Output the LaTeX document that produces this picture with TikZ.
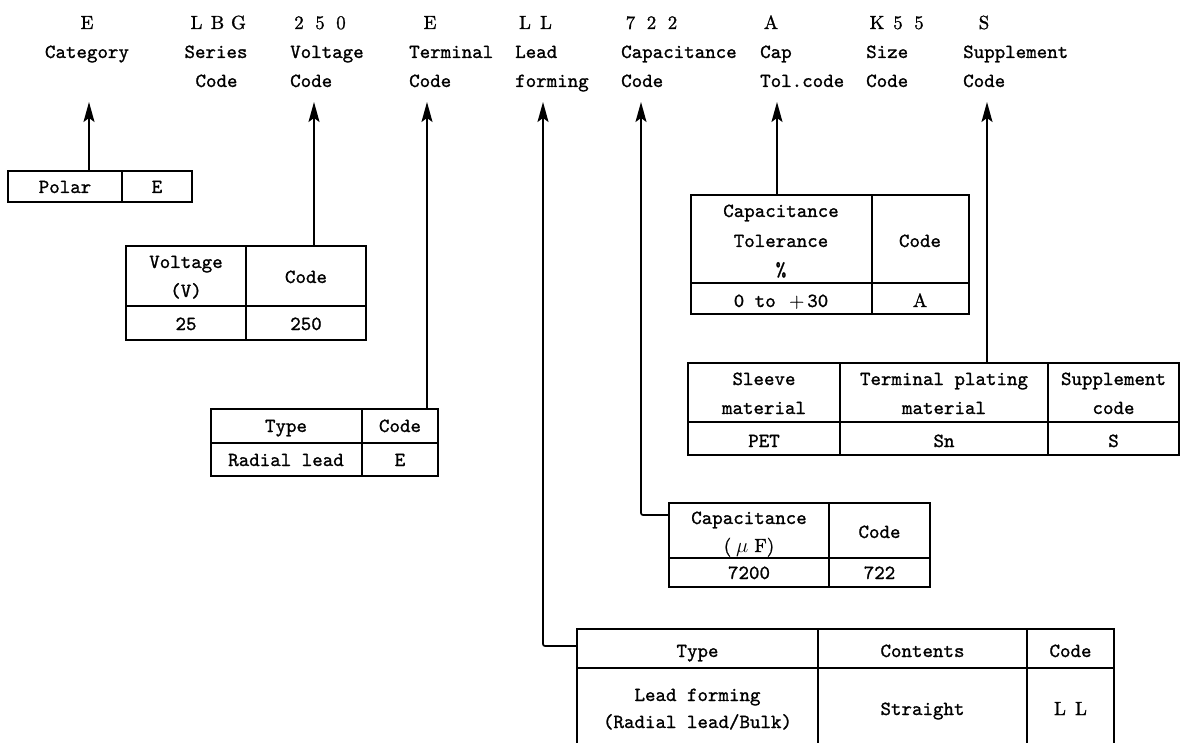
\documentclass[tikz,border=0pt]{standalone}
\usetikzlibrary{arrows.meta}
\font\mytt="[lmmono10-regular]:embolden=1.1" at 20pt
\font\myrm="[lmroman10-regular]:embolden=1.1" at 19pt
\newcommand\fwc[1]{\makebox[21pt]{#1}}
\begin{document}
\begin{tikzpicture}[x=1pt,y=-1pt,
  tbl/.style={draw, line width=1.5pt, inner sep=0pt, outer sep=0pt, anchor=north west},
  gridline/.style={line width=1.5pt},
  t/.style={font={\fontsize{20}{24}\selectfont\mytt}, inner sep=0pt, anchor=base},
  tw/.style={t, anchor=base west},
  big/.style={font={\fontsize{19}{23}\selectfont\myrm}, inner sep=0pt, anchor=base},
  arr/.style={line width=1.7pt, -{Stealth[length=20pt,width=11pt,inset=4pt]}}]
\useasboundingbox (0,0) rectangle (1180,743);

% ---------- top codes ----------
\node[big] (cE)   at (87,29)    {E};
\node[big] (cLBG) at (217.5,29) {\fwc{L}\fwc{B}\fwc{G}};
\node[big] (c250) at (320,29)   {\fwc{2}\fwc{5}\fwc{0}};
\node[big] (cE2)  at (430,29)   {E};
\node[big] (cLL)  at (535.5,29) {\fwc{L}\fwc{L}};
\node[big] (c722) at (651.5,29) {\fwc{7}\fwc{2}\fwc{2}};
\node[big] (cA)   at (771,29)   {A};
\node[big] (cK55) at (898,29)   {\fwc{K}\fwc{5}\fwc{5}};
\node[big] (cS)   at (984,29)   {S};

% ---------- labels ----------
\node[t]  (l1a) at (87,58)  {Category};
\node[t]  (l2a) at (216,58) {Series};
\node[t]  (l2b) at (216.5,87) {Code};
\node[tw] (l3a) at (290,58) {Voltage};
\node[tw] (l3b) at (290,87) {Code};
\node[tw] (l4a) at (409,58) {Terminal};
\node[tw] (l4b) at (409,87) {Code};
\node[tw] (l5a) at (515,58) {Lead};
\node[tw] (l5b) at (515,87) {forming};
\node[tw] (l6a) at (621,58) {Capacitance};
\node[tw] (l6b) at (621,87) {Code};
\node[tw] (l7a) at (760,58) {Cap};
\node[tw] (l7b) at (760,87) {Tol.code};
\node[tw] (l8a) at (866,58) {Size};
\node[tw] (l8b) at (866,87) {Code};
\node[tw] (l9a) at (963,58) {Supplement};
\node[tw] (l9b) at (963,87) {Code};

% ---------- arrow tips ----------
\coordinate (tCat)  at (89,102);
\coordinate (tVolt) at (314,102);
\coordinate (tTerm) at (427,102);
\coordinate (tLead) at (543,102);
\coordinate (tCap)  at (641,102);
\coordinate (tTol)  at (777,102);
\coordinate (tSupp) at (987,102);

% ---------- Polar table ----------
\node[tbl, minimum width=184pt, minimum height=31pt] (polar) at (8,171) {};
\draw[gridline] (122,171) -- (122,202);
\node[t] (p1) at (65,193) {Polar};
\node[t] (p2) at (157,193) {E};

% ---------- Voltage table ----------
\node[tbl, minimum width=240pt, minimum height=94pt] (volt) at (126,246) {};
\draw[gridline] (246,246) -- (246,340);
\draw[gridline] (126,306) -- (366,306);
\node[t] (v1) at (186,268) {Voltage};
\node[t] (v2) at (186,297) {(V)};
\node[t] (v3) at (306,283) {Code};
\node[t] (v4) at (186,330) {25};
\node[t] (v5) at (306,330) {250};

% ---------- Terminal type table ----------
\node[tbl, minimum width=227pt, minimum height=67pt] (type) at (211,409) {};
\draw[gridline] (362,409) -- (362,476);
\draw[gridline] (211,443) -- (438,443);
\node[t] (y1) at (286,432) {Type};
\node[t] (y2) at (400,432) {Code};
\node[t] (y3) at (286,466) {Radial lead};
\node[t] (y4) at (400,466) {E};

% ---------- Tolerance table ----------
\node[tbl, minimum width=278pt, minimum height=119pt] (tol) at (691,195) {};
\draw[gridline] (872,195) -- (872,314);
\draw[gridline] (691,283) -- (969,283);
\node[t] (o1) at (781,217) {Capacitance};
\node[t] (o2) at (781,247) {Tolerance};
\node[t] (o3) at (781,276) {\%};
\node[t] (o4) at (920,247) {Code};
\node[t] (o5) at (781,307) {0 to \fwc{\myrm +}30};
\node[big] (o6) at (920,307) {A};

% ---------- Supplement table ----------
\node[tbl, minimum width=491pt, minimum height=92pt] (sleeve) at (688,363) {};
\draw[gridline] (840,363) -- (840,455);
\draw[gridline] (1048,363) -- (1048,455);
\draw[gridline] (688,422) -- (1179,422);
\node[t] (s1) at (764,385) {Sleeve};
\node[t] (s2) at (764,414) {material};
\node[t] (s3) at (944,385) {Terminal plating};
\node[t] (s4) at (944,414) {material};
\node[t] (s5) at (1113.5,385) {Supplement};
\node[t] (s6) at (1113.5,414) {code};
\node[t] (s7) at (764,447) {PET};
\node[t] (s8) at (944,447) {Sn};
\node[t] (s9) at (1113.5,447) {S};

% ---------- Capacitance table ----------
\node[tbl, minimum width=261pt, minimum height=84pt] (cap) at (669,503) {};
\draw[gridline] (829,503) -- (829,587);
\draw[gridline] (669,558) -- (930,558);
\node[t] (a1) at (749,524) {Capacitance};
\node[t] (a2) at (749,552) {{\myrm(}\hspace{5pt}$\mu$\hspace{6pt}{\myrm F)}};
\node[t] (a3) at (879.5,538) {Code};
\node[t] (a4) at (749,579) {7200};
\node[t] (a5) at (879.5,579) {722};

% ---------- Lead forming table ----------
\node[tbl, minimum width=537pt, minimum height=126pt] (lead) at (577,629) {};
\draw[gridline] (818,629) -- (818,760);
\draw[gridline] (1027,629) -- (1027,760);
\draw[gridline] (577,668) -- (1114,668);
\node[t] (d1) at (697.5,657) {Type};
\node[t] (d2) at (922.5,657) {Contents};
\node[t] (d3) at (1070.5,657) {Code};
\node[t] (d4) at (697.5,701) {Lead forming};
\node[t] (d5) at (697.5,728) {(Radial lead/Bulk)};
\node[t] (d6) at (922.5,715) {Straight};
\node[big] (d7) at (1070.5,715) {\fwc{L}\fwc{L}};

% ---------- connectors ----------
\coordinate (eLead) at (577,646);
\coordinate (eCap)  at (669,515);
\draw[arr] (polar.north -| tCat) -- (tCat);
\draw[arr] (volt.north -| tVolt) -- (tVolt);
\draw[arr] (type.north -| tTerm) -- (tTerm);
\draw[arr, rounded corners=2pt] (eLead) -| (tLead);
\draw[arr, rounded corners=2pt] (eCap) -| (tCap);
\draw[arr] (tol.north -| tTol) -- (tTol);
\draw[arr] (sleeve.north -| tSupp) -- (tSupp);
\end{tikzpicture}
\end{document}
